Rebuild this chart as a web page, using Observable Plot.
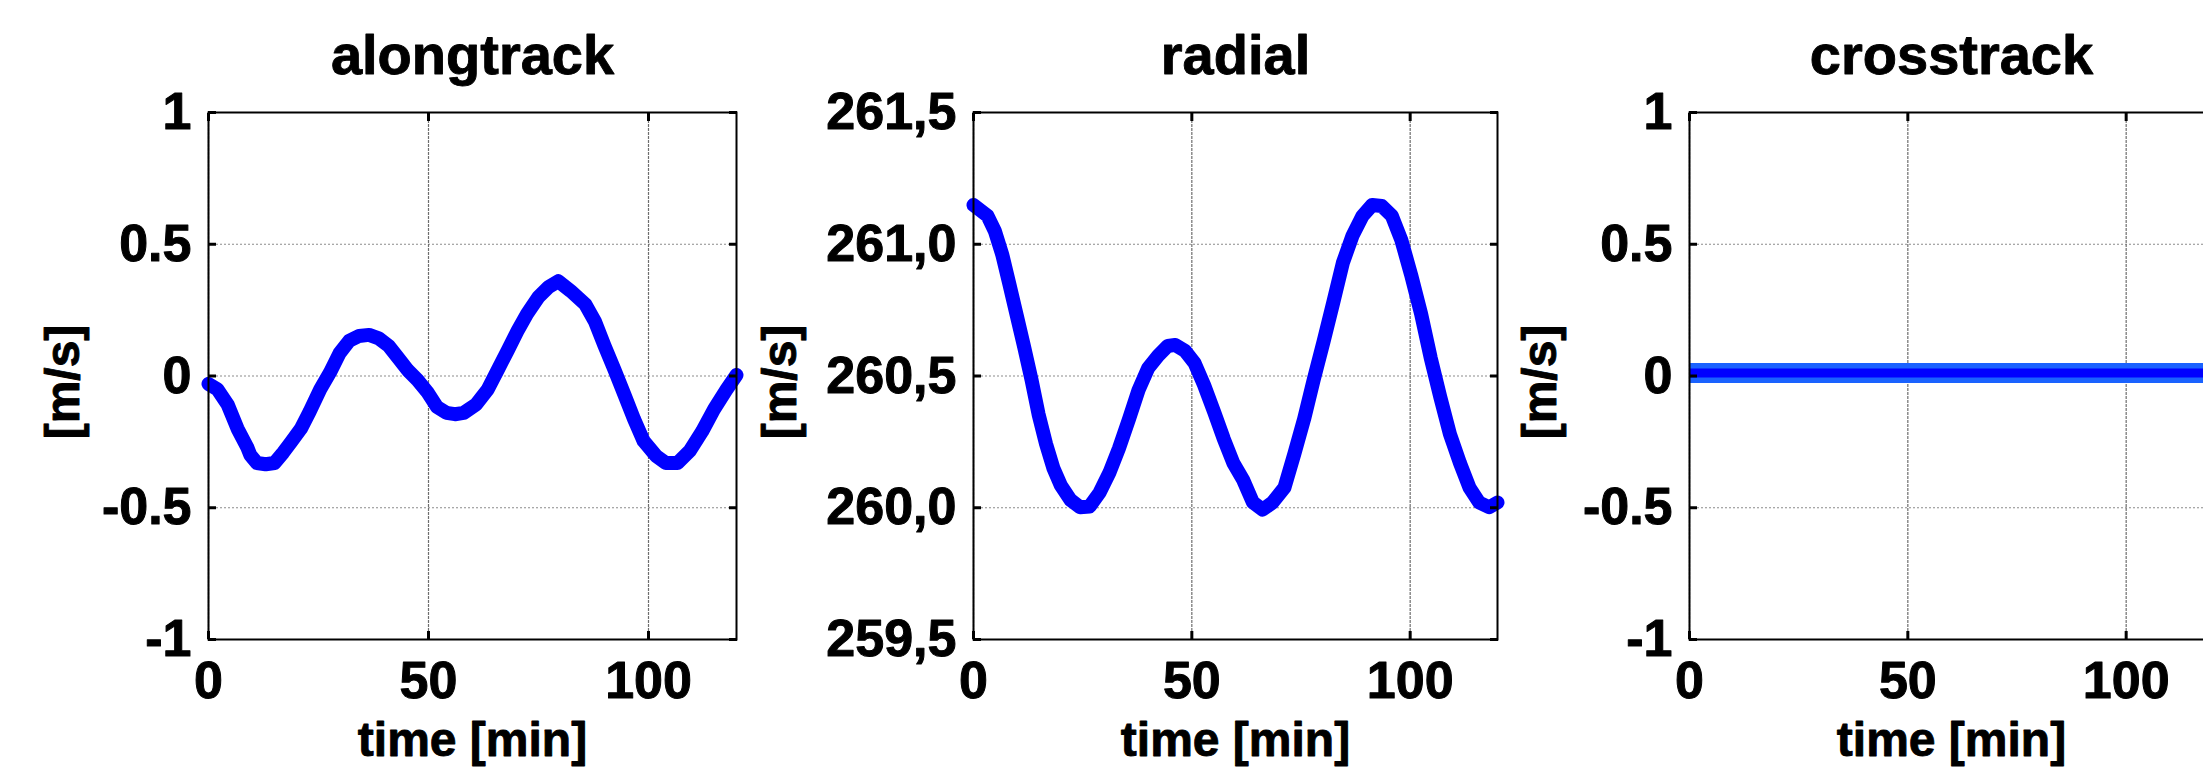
<!DOCTYPE html>
<html>
<head>
<meta charset="utf-8">
<script src="https://cdn.jsdelivr.net/npm/d3@7"></script>
<script src="https://cdn.jsdelivr.net/npm/@observablehq/plot@0.6"></script>
<style>
  html, body { margin: 0; padding: 0; background: #fff; }
  #chart { position: relative; width: 2203px; height: 767px; overflow: hidden; background: #fff; }
  #chart > div { position: absolute; top: 0; }
  svg { max-width: none !important; background: transparent !important; overflow: visible; }
</style>
</head>
<body>
<div id="chart"></div>
<script>
// ---- data ----
const panelTitles = ["alongtrack", "radial", "crosstrack"];
const xTicks = [0, 50, 100];
const xTickLabels = ["0", "50", "100"];
const xLabel = "time [min]";
const yLabel = "[m/s]";

const alongTime  = [0, 2, 4.4, 6.6, 8.8, 9.5, 11, 13, 15, 17, 18.8, 21, 23, 25.4, 27.6, 29.8, 32, 34.2, 36.5, 38.7, 40.9, 43.1, 45.3, 47.5, 49.7, 51.9, 54.1, 56, 58, 60.8, 63.5, 65.7, 68, 70.2, 72.4, 75, 77.3, 79.5, 82.3, 85.6, 87.8, 90, 92.3, 94.5, 96.7, 98.9, 101.7, 103.9, 106.6, 109.4, 112.2, 114.9, 117.7, 120];
const alongValue = [-0.03, -0.05, -0.11, -0.2, -0.27, -0.3, -0.33, -0.335, -0.33, -0.29, -0.25, -0.2, -0.135, -0.05, 0.013, 0.087, 0.134, 0.152, 0.156, 0.143, 0.115, 0.069, 0.022, -0.015, -0.06, -0.117, -0.14, -0.145, -0.14, -0.108, -0.05, 0.022, 0.097, 0.17, 0.236, 0.3, 0.338, 0.36, 0.323, 0.273, 0.208, 0.115, 0.022, -0.07, -0.163, -0.247, -0.303, -0.33, -0.33, -0.284, -0.21, -0.126, -0.052, 0.004];

const radialTime  = [0, 3.2, 4.9, 6.6, 8.2, 9.9, 11.6, 13.3, 14.9, 16.6, 18.3, 20, 22.2, 24.4, 26.6, 28.9, 31.1, 33.3, 35.6, 37.8, 40, 42.3, 44.5, 46.2, 48.4, 50.6, 52.8, 55.1, 57.3, 59.5, 61.8, 64, 66.2, 68.5, 71.2, 73.5, 75.7, 77.9, 80.2, 82.4, 84.6, 86.8, 89.1, 91.3, 93.5, 95.8, 98, 100.2, 102.5, 104.7, 106.9, 109.1, 111.4, 113.6, 115.8, 118.1, 120];
const radialValue = [261.149, 261.108, 261.05, 260.96, 260.85, 260.73, 260.61, 260.485, 260.355, 260.243, 260.15, 260.085, 260.03, 260.002, 260.005, 260.058, 260.132, 260.225, 260.336, 260.447, 260.53, 260.577, 260.614, 260.618, 260.596, 260.55, 260.466, 260.364, 260.262, 260.17, 260.104, 260.02, 259.993, 260.02, 260.076, 260.206, 260.336, 260.485, 260.633, 260.78, 260.93, 261.033, 261.108, 261.149, 261.145, 261.108, 261.015, 260.885, 260.736, 260.569, 260.42, 260.28, 260.17, 260.076, 260.02, 260.002, 260.02];

const crossTime  = [0, 20, 40, 60, 80, 100, 120];
const crossValue = [0.011, 0.011, 0.011, 0.011, 0.011, 0.011, 0.011];

const yTicksA = [-1, -0.5, 0, 0.5, 1];
const yTickLabelsA = ["-1", "-0.5", "0", "0.5", "1"];
const yTicksR = [259.5, 260, 260.5, 261, 261.5];
const yTickLabelsR = ["259,5", "260,0", "260,5", "261,0", "261,5"];

// ---- layout ----
const FONT = "'Liberation Sans', Arial, Helvetica, sans-serif";
const frameTop = 112, frameBottom = 639, H = 767;

function panel(cfg) {
  const {title, time, value, yTicks, yTickLabels, svgLeft, frameLeft, frameRight, svgRight, yLabelBaseline, double} = cfg;
  const marginLeft = frameLeft - svgLeft;
  const marginRight = svgRight - frameRight;
  const width = svgRight - svgLeft;
  const data = time.map((t, i) => ({t, v: value[i]}));
  const yLab = new Map(yTicks.map((d, i) => [d, yTickLabels[i]]));
  const xLab = new Map(xTicks.map((d, i) => [d, xTickLabels[i]]));
  const lineMarks = double
    ? [Plot.line(data, {x: "t", y: "v", stroke: "#1a62ff", strokeWidth: 20, strokeLinejoin: "round", strokeLinecap: "butt"}),
       Plot.line(data, {x: "t", y: "v", stroke: "#0000ff", strokeWidth: 9, strokeLinecap: "butt"})]
    : [Plot.line(data, {x: "t", y: "v", stroke: "#0000ff", strokeWidth: 14, strokeLinejoin: "round", strokeLinecap: "round"})];
  const textStyle = {fontFamily: FONT, fontWeight: "bold", fill: "#000", stroke: "#000", strokeWidth: 0.9};
  const svg = Plot.plot({
    width, height: H,
    marginTop: frameTop, marginBottom: H - frameBottom, marginLeft, marginRight,
    x: {domain: [0, 120]},
    y: {domain: [yTicks[0], yTicks[yTicks.length - 1]]},
    style: {fontFamily: FONT, background: "transparent", overflow: "visible", maxWidth: "none"},
    marks: [
      Plot.gridY(yTicks, {stroke: "#8c8c8c", strokeOpacity: 1, strokeWidth: 1.2, strokeDasharray: "2,2"}),
      Plot.gridX(xTicks, {stroke: "#6e6e6e", strokeOpacity: 1, strokeWidth: 1.2, strokeDasharray: "3,1"}),
      ...lineMarks,
      Plot.frame({stroke: "#000", strokeWidth: 2}),
      // inward tick marks on all four sides
      Plot.axisY(yTicks, {anchor: "left", tickSize: 8, dx: 8, fill: "none", label: null, strokeWidth: 3, stroke: "#000"}),
      Plot.axisY(yTicks, {anchor: "right", tickSize: 8, dx: -8, fill: "none", label: null, strokeWidth: 3, stroke: "#000"}),
      Plot.axisX(xTicks, {anchor: "bottom", tickSize: 8, dy: -8, fill: "none", label: null, strokeWidth: 3, stroke: "#000"}),
      Plot.axisX(xTicks, {anchor: "top", tickSize: 8, dy: 8, fill: "none", label: null, strokeWidth: 3, stroke: "#000"}),
      // tick labels
      Plot.axisY(yTicks, {anchor: "left", tickSize: 0, tickPadding: 17, label: null, fill: "#000",
        textStroke: "#000", textStrokeWidth: 1, textStrokeOpacity: 1,
        tickFormat: d => yLab.get(d), fontSize: 52, fontWeight: "bold", fontFamily: FONT}),
      Plot.axisX(xTicks, {anchor: "bottom", tickSize: 0, tickPadding: 22, label: null, fill: "#000",
        textStroke: "#000", textStrokeWidth: 1, textStrokeOpacity: 1,
        tickFormat: d => xLab.get(d), fontSize: 52, fontWeight: "bold", fontFamily: FONT}),
      // title and axis labels
      Plot.text([title], {text: d => d, frameAnchor: "top", dy: -39, lineAnchor: "bottom", textAnchor: "middle",
        fontSize: 56, ...textStyle}),
      Plot.text([xLabel], {text: d => d, frameAnchor: "bottom", dy: 116, lineAnchor: "bottom", textAnchor: "middle",
        fontSize: 48, ...textStyle}),
      Plot.text([yLabel], {text: d => d, frameAnchor: "left", dx: yLabelBaseline - frameLeft, dy: 6, rotate: -90,
        lineAnchor: "bottom", textAnchor: "middle", fontSize: 48, ...textStyle})
    ]
  });
  const wrap = document.createElement("div");
  wrap.style.left = svgLeft + "px";
  wrap.style.width = width + "px";
  wrap.appendChild(svg);
  document.getElementById("chart").appendChild(wrap);
}

panel({title: panelTitles[0], time: alongTime, value: alongValue, yTicks: yTicksA, yTickLabels: yTickLabelsA,
  svgLeft: 0, frameLeft: 208, frameRight: 736, svgRight: 747, yLabelBaseline: 78});
panel({title: panelTitles[1], time: radialTime, value: radialValue, yTicks: yTicksR, yTickLabels: yTickLabelsR,
  svgLeft: 748, frameLeft: 973, frameRight: 1497, svgRight: 1507, yLabelBaseline: 795});
panel({title: panelTitles[2], time: crossTime, value: crossValue, yTicks: yTicksA, yTickLabels: yTickLabelsA,
  svgLeft: 1508, frameLeft: 1689, frameRight: 2213, svgRight: 2225, yLabelBaseline: 1555, double: true});
</script>
</body>
</html>
